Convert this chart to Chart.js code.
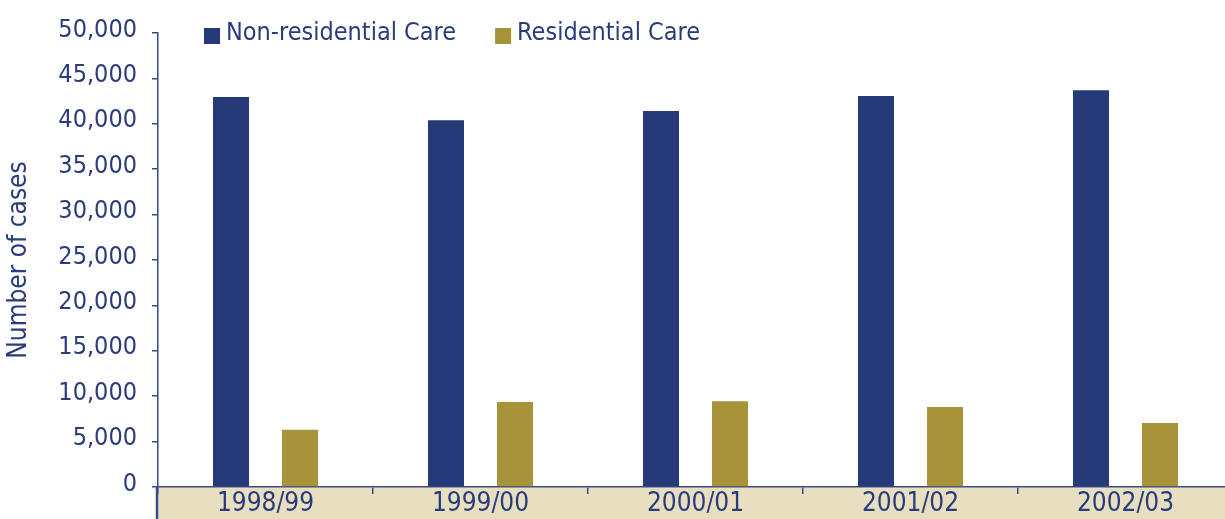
<!DOCTYPE html>
<html>
<head>
<meta charset="utf-8">
<script src="https://cdn.jsdelivr.net/npm/chart.js@4/dist/chart.umd.min.js"></script>
<style>
  html, body { margin: 0; padding: 0; background: #fff; overflow: hidden; }
  #wrap { width: 1233px; height: 519px; }
</style>
</head>
<body>
<div id="wrap"><canvas id="grafica" width="1233" height="519"></canvas></div>
<script>
var years = ['1998/99', '1999/00', '2000/01', '2001/02', '2002/03'];
var nonResidential = [42950, 40400, 41400, 43050, 43700];
var residential = [6300, 9350, 9450, 8800, 7050];
var yTicks = [0, 5000, 10000, 15000, 20000, 25000, 30000, 35000, 40000, 45000, 50000];

var navy = '#263a7a';
var gold = '#a8923a';
var band = '#e8dfc1';
var textColor = '#2b3c7d';
var axisColor = '#3a4a86';
var fontFamily = '"Liberation Sans Narrow", "Arial Narrow", "DejaVu Sans Condensed", "Liberation Sans", sans-serif';

// beige band under the x axis, plus the left edge line of it
var bandPlugin = {
    id: 'band',
    beforeDraw: function (chart) {
        var c = chart.ctx, a = chart.chartArea;
        c.save();
        c.fillStyle = band;
        c.fillRect(a.left, a.bottom, a.right - a.left, chart.height - a.bottom);
        c.strokeStyle = axisColor;
        c.lineWidth = 2.5;
        c.beginPath();
        c.moveTo(a.left - 1, a.bottom);
        c.lineTo(a.left - 1, chart.height);
        c.stroke();
        c.restore();
    }
};

// legend drawn inside the plot, top left
var legendPlugin = {
    id: 'topLegend',
    afterDraw: function (chart) {
        var c = chart.ctx, a = chart.chartArea;
        var x = a.left + 46, y = 36;
        c.save();
        c.font = '25px ' + fontFamily;
        c.textBaseline = 'middle';
        chart.data.datasets.forEach(function (ds) {
            c.fillStyle = ds.backgroundColor;
            c.fillRect(x, y - 8, 16, 16);
            c.fillStyle = textColor;
            c.fillText(ds.label, x + 22, y - 3);
            x += 22 + c.measureText(ds.label).width + 39;
        });
        c.restore();
    }
};

var ctx = document.getElementById('grafica').getContext('2d');
var myChart = new Chart(ctx, {
    type: 'bar',
    data: {
        labels: years,
        datasets: [{
            label: 'Non-residential Care',
            data: nonResidential,
            backgroundColor: navy
        },
        {
            label: 'Residential Care',
            data: residential,
            backgroundColor: gold
        }]
    },
    options: {
        responsive: false,
        animation: false,
        categoryPercentage: 0.642,
        barPercentage: 0.522,
        layout: { padding: { top: 33, left: 0, right: 0, bottom: 0 } },
        plugins: {
            legend: { display: false },
            tooltip: { enabled: false }
        },
        scales: {
            x: {
                grid: {
                    offset: true,
                    drawOnChartArea: false,
                    tickLength: 7,
                    color: axisColor,
                    lineWidth: 1.5
                },
                border: { color: axisColor, width: 1.5 },
                ticks: {
                    color: textColor,
                    font: { family: fontFamily, size: 26 },
                    padding: -5,
                    maxRotation: 0
                },
                afterFit: function (scale) { scale.height = 32; }
            },
            y: {
                min: 0,
                max: 50000,
                afterBuildTicks: function (scale) {
                    scale.ticks = yTicks.map(function (v) { return { value: v }; });
                },
                grid: {
                    drawOnChartArea: false,
                    tickLength: 6,
                    color: axisColor,
                    lineWidth: 1.5
                },
                border: { color: axisColor, width: 1.5 },
                ticks: {
                    color: textColor,
                    font: { family: fontFamily, size: 25 },
                    padding: 15,
                    labelOffset: -3,
                    callback: function (v) { return v.toLocaleString('en-US'); }
                },
                title: {
                    display: true,
                    text: 'Number of cases',
                    color: textColor,
                    font: { family: fontFamily, size: 26 },
                    padding: { top: 4, bottom: 0 }
                },
                afterFit: function (scale) { scale.width = 158; }
            }
        }
    },
    plugins: [bandPlugin, legendPlugin]
});
</script>
</body>
</html>
